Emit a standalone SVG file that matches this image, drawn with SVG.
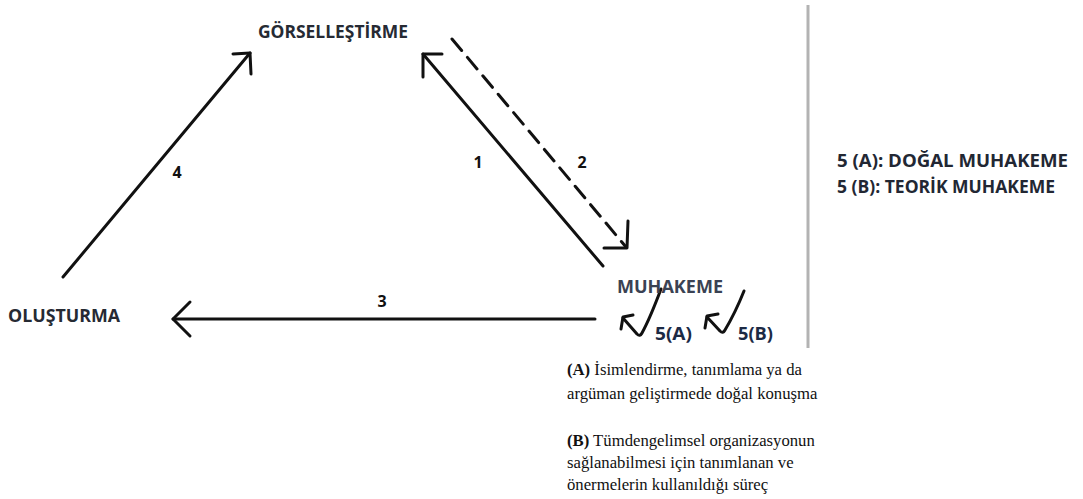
<svg xmlns="http://www.w3.org/2000/svg" width="1083" height="499" viewBox="0 0 1083 499">
<style>
.lbl{font-family:"Open Sans","Liberation Sans",sans-serif;font-weight:bold;font-size:17px;fill:#262a33}
.num{font-family:"Open Sans","Liberation Sans",sans-serif;font-weight:bold;font-size:16px;fill:#111}
.leg{font-family:"Open Sans","Liberation Sans",sans-serif;font-weight:bold;font-size:18px;fill:#222733}
.note{font-family:"Liberation Serif","Times New Roman",serif;font-size:16.7px;fill:#111}
.ln{stroke:#111;stroke-width:3;fill:none;stroke-linecap:round;stroke-linejoin:round}
</style>
<rect width="1083" height="499" fill="#fff"/>
<g id="connectors">
  <g id="edge4">
    <line class="ln" x1="63" y1="277" x2="250" y2="53"/>
    <polyline class="ln" points="233,54 250,53 251,74"/>
  </g>
  <g id="edge1">
    <line class="ln" x1="603" y1="266" x2="423" y2="54"/>
    <polyline class="ln" points="442,54 423,54 423,77"/>
  </g>
  <g id="edge2">
    <line class="ln" x1="452" y1="39" x2="626" y2="247" stroke-dasharray="15,9"/>
    <polyline class="ln" points="628,221 627,248 604,248"/>
  </g>
  <g id="edge3">
    <line class="ln" x1="595" y1="319" x2="173" y2="319"/>
    <polyline class="ln" points="190,302 173,319 190,336"/>
  </g>
  <g id="edge5a">
    <path class="ln" d="M661,289 C655,305 648,322 642,333 Q640,337 637,334 L623,318"/>
    <polyline class="ln" points="633,315 623,317 621,329"/>
  </g>
  <g id="edge5b">
    <path class="ln" d="M744,291 C738,306 731,320 725,330 Q723,334 720,331 L707,317"/>
    <polyline class="ln" points="718,314 707,316 705,328"/>
  </g>
  <text class="num" x="478" y="168" text-anchor="middle">1</text>
  <text class="num" x="582" y="168" text-anchor="middle">2</text>
  <text class="num" x="382" y="307" text-anchor="middle">3</text>
  <text class="num" x="177" y="178" text-anchor="middle">4</text>
</g>
<g id="node-gorsellestirme">
  <text class="lbl" x="258" y="38" textLength="150" lengthAdjust="spacingAndGlyphs">GÖRSELLEŞTİRME</text>
</g>
<g id="node-muhakeme">
  <text class="lbl" x="617" y="293" textLength="106" lengthAdjust="spacingAndGlyphs" style="fill:#3a4253">MUHAKEME</text>
  <text class="lbl" x="655" y="340" textLength="37" lengthAdjust="spacingAndGlyphs" style="fill:#1c2a45;font-size:18px">5(A)</text>
  <text class="lbl" x="738" y="340" textLength="35" lengthAdjust="spacingAndGlyphs" style="fill:#1c2a45;font-size:18px">5(B)</text>
</g>
<g id="node-olusturma">
  <text class="lbl" x="8" y="322" textLength="112" lengthAdjust="spacingAndGlyphs">OLUŞTURMA</text>
</g>
<g id="divider">
  <line x1="808" y1="5" x2="808" y2="348" stroke="#b3b3b3" stroke-width="3"/>
</g>
<g id="legend">
  <text class="leg" x="837" y="167" textLength="231" lengthAdjust="spacingAndGlyphs">5 (A): DOĞAL MUHAKEME</text>
  <text class="leg" x="837" y="193" textLength="218" lengthAdjust="spacingAndGlyphs">5 (B): TEORİK MUHAKEME</text>
</g>
<g id="notes">
  <text class="note" x="567" y="375"><tspan font-weight="bold">(A)</tspan> İsimlendirme, tanımlama ya da</text>
  <text class="note" x="567" y="399">argüman geliştirmede doğal konuşma</text>
  <text class="note" x="567" y="446"><tspan font-weight="bold">(B)</tspan> Tümdengelimsel organizasyonun</text>
  <text class="note" x="567" y="468">sağlanabilmesi için tanımlanan ve</text>
  <text class="note" x="567" y="490">önermelerin kullanıldığı süreç</text>
</g>
</svg>
